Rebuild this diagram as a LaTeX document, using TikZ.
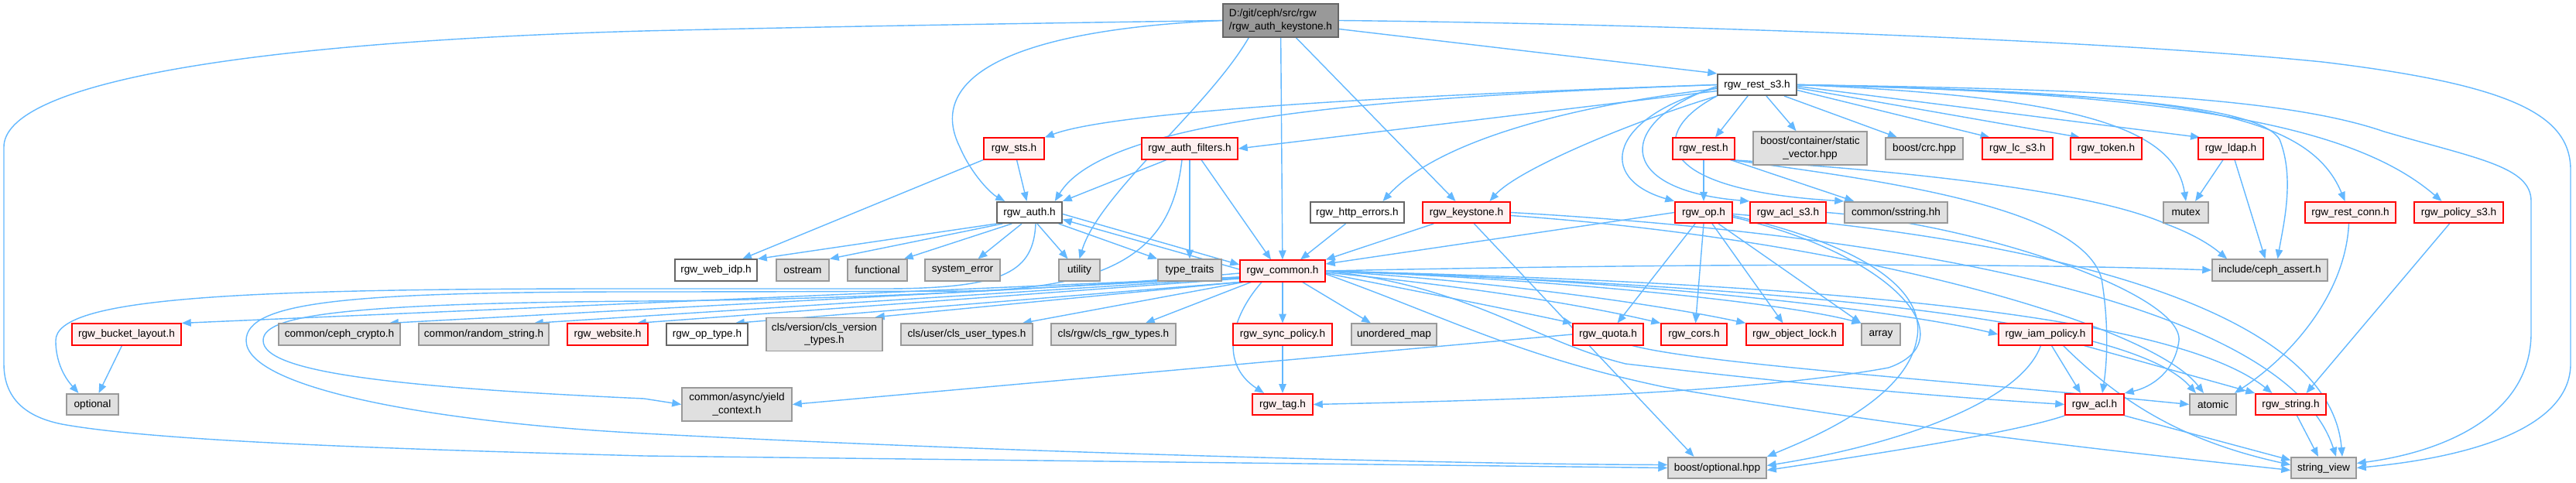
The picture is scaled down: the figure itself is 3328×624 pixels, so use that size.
\documentclass[tikz,border=0pt]{standalone}
\usepackage{fontspec}
\setmainfont{Liberation Sans}
\usetikzlibrary{arrows.meta}
\definecolor{ecol}{HTML}{63B8FF}
\definecolor{rfill}{HTML}{FFF0F0}
\definecolor{gfill}{HTML}{E0E0E0}
\definecolor{gline}{HTML}{999999}
\definecolor{wline}{HTML}{666666}
\definecolor{mfill}{HTML}{999999}
\definecolor{rline}{HTML}{FF0000}
\newcommand\nfs{\fontsize{3.87pt}{4.74pt}\selectfont}
\pgfdeclarelayer{bg}
\pgfsetlayers{bg,main}
\tikzset{
  nb/.style={draw, line width=0.45pt, inner sep=0pt, align=center, minimum height=2.75mm, font=\nfs, text=black},
  W/.style={minimum width=#1*0.1mm},
  tall/.style={minimum height=4.3mm},
  rnode/.style={nb, draw=rline, fill=rfill},
  gnode/.style={nb, draw=gline, fill=gfill},
  wnode/.style={nb, draw=wline, fill=white},
  mnode/.style={nb, draw=wline, fill=mfill, align=left, tall},
  e/.style={draw=ecol, line width=0.4pt, line join=round, -{Triangle[length=3.4pt,width=2.7pt]}}
}
\begin{document}
\begin{tikzpicture}[x=0.1mm,y=-0.1mm]
\useasboundingbox (0,0) rectangle (3328,624);
% row A
\node[mnode,W=149] (main) at (1654.5,26.5) {D:/git/ceph/src/rgw\\/rgw\_auth\_keystone.h};
% row B
\node[wnode,W=102] (rest_s3) at (2270,109.5) {rgw\_rest\_s3.h};
% row C
\node[rnode,W=78] (sts) at (1310,192) {rgw\_sts.h};
\node[rnode,W=124] (auth_filters) at (1537,192) {rgw\_auth\_filters.h};
\node[rnode,W=80] (rest) at (2201,192) {rgw\_rest.h};
\node[gnode,W=147,tall] (static_vector) at (2338.5,191.5) {boost/container/static\\\_vector.hpp};
\node[gnode,W=100] (crc) at (2486,192) {boost/crc.hpp};
\node[rnode,W=91] (lc_s3) at (2606.5,192) {rgw\_lc\_s3.h};
\node[rnode,W=92] (token) at (2721,192) {rgw\_token.h};
\node[rnode,W=84] (ldap) at (2882,192) {rgw\_ldap.h};
% row D
\node[wnode,W=84] (auth) at (1330,274.5) {rgw\_auth.h};
\node[wnode,W=121] (http_errors) at (1753.5,274.5) {rgw\_http\_errors.h};
\node[rnode,W=113] (keystone) at (1894.5,274.5) {rgw\_keystone.h};
\node[rnode,W=74] (op) at (2201,274.5) {rgw\_op.h};
\node[rnode,W=98] (acl_s3) at (2310,274.5) {rgw\_acl\_s3.h};
\node[gnode,W=133] (sstring) at (2449.5,274.5) {common/sstring.hh};
\node[gnode,W=58] (mutex) at (2824,274.5) {mutex};
\node[rnode,W=117] (rest_conn) at (3036.5,274.5) {rgw\_rest\_conn.h};
\node[rnode,W=115] (policy_s3) at (3176.5,274.5) {rgw\_policy\_s3.h};
% row E
\node[wnode,W=106] (web_idp) at (925,349) {rgw\_web\_idp.h};
\node[gnode,W=68] (ostream) at (1037,349) {ostream};
\node[gnode,W=77] (functional) at (1133.5,349) {functional};
\node[gnode,W=97] (system_error) at (1243.5,349) {system\_error};
\node[gnode,W=53] (utility) at (1394.5,349) {utility};
\node[gnode,W=82] (type_traits) at (1537,349) {type\_traits};
\node[rnode,W=110] (common) at (1657,350) {rgw\_common.h};
\node[gnode,W=149] (ceph_assert) at (2932.5,349) {include/ceph\_assert.h};
% row F
\node[rnode,W=141] (bucket_layout) at (163.5,432) {rgw\_bucket\_layout.h};
\node[gnode,W=157] (ceph_crypto) at (438.5,432) {common/ceph\_crypto.h};
\node[gnode,W=168] (random_string) at (625,432) {common/random\_string.h};
\node[rnode,W=104] (website) at (785,432) {rgw\_website.h};
\node[wnode,W=105] (op_type) at (913.5,432) {rgw\_op\_type.h};
\node[gnode,W=150,tall] (cls_version) at (1065,432) {cls/version/cls\_version\\\_types.h};
\node[gnode,W=170] (cls_user) at (1249,432) {cls/user/cls\_user\_types.h};
\node[gnode,W=161] (cls_rgw) at (1438.5,432) {cls/rgw/cls\_rgw\_types.h};
\node[rnode,W=128] (sync_policy) at (1657,432) {rgw\_sync\_policy.h};
\node[gnode,W=110] (unordered_map) at (1801,432) {unordered\_map};
\node[rnode,W=91] (quota) at (2077.5,432) {rgw\_quota.h};
\node[rnode,W=85] (cors) at (2188.5,432) {rgw\_cors.h};
\node[rnode,W=125] (object_lock) at (2318.5,432) {rgw\_object\_lock.h};
\node[gnode,W=50] (array) at (2430,432) {array};
\node[rnode,W=121] (iam_policy) at (2642.5,432) {rgw\_iam\_policy.h};
% row G
\node[gnode,W=67] (optional) at (119.5,522.5) {optional};
\node[gnode,W=142,tall] (yield) at (952,522.5) {common/async/yield\\\_context.h};
\node[rnode,W=78] (tag) at (1657,522.5) {rgw\_tag.h};
\node[rnode,W=76] (acl) at (2706,522.5) {rgw\_acl.h};
\node[gnode,W=60] (atomic) at (2859,522.5) {atomic};
\node[rnode,W=91] (string) at (2959.5,522.5) {rgw\_string.h};
% row H
\node[gnode,W=127] (boost_optional) at (2218.5,604.5) {boost/optional.hpp};
\node[gnode,W=84] (string_view) at (3002,604.5) {string\_view};

\begin{pgfonlayer}{bg}
% main
\draw[e] (main.west) .. controls (1280,40) and (1200,110) .. (1240,190) .. controls (1255,225) and (1280,250) .. ([xshift=1.1mm]auth.north west);
\draw[e] ([xshift=3.4mm]main.south west) .. controls (1560,140) and (1420,250) .. (utility.north);
\draw[e] (main) -- (common);
\draw[e] ([xshift=2mm]main.south) -- ([xshift=-1.4mm]keystone.north);
\draw[e] ([yshift=-1.1mm]main.east) -- (rest_s3.north west);
\draw[e] (main.west) .. controls (1200,32) and (1000,36) .. (832,40) .. controls (300,55) and (5,110) .. (5,190) -- (5,470) .. controls (5,520) and (40,540) .. (80,548) .. controls (200,570) and (500,580) .. (832,589) -- (boost_optional.west);
\draw[e] (main.east) .. controls (2100,30) and (2700,50) .. (3000,80) .. controls (3250,110) and (3321,150) .. (3321,220) -- (3321,470) .. controls (3321,550) and (3200,590) .. (string_view.east);
% rest_s3
\draw[e] (rest_s3.west) .. controls (1900,120) and (1450,140) .. (sts.north east);
\draw[e] ([yshift=-0.8mm]rest_s3.west) -- (auth_filters.east);
\draw[e] (rest_s3.west) .. controls (1800,125) and (1430,150) .. ([xshift=-1mm]auth.north east);
\draw[e] ([yshift=-0.5mm]rest_s3.west) .. controls (2000,140) and (1850,190) .. ([xshift=3.3mm]http_errors.north);
\draw[e] (rest_s3.south west) .. controls (2100,160) and (1960,220) .. ([xshift=3mm]keystone.north);
\draw[e] ([yshift=-0.4mm]rest_s3.west) .. controls (2080,150) and (2060,230) .. (op.north west);
\draw[e] ([yshift=-0.2mm]rest_s3.west) .. controls (2090,155) and (2080,245) .. (acl_s3.north west);
\draw[e] (rest_s3.south west) .. controls (2130,170) and (2130,245) .. (sstring.north west);
\draw[e] ([xshift=-1.2mm]rest_s3.south) -- ([xshift=1.5mm]rest.north);
\draw[e] ([xshift=1.2mm]rest_s3.south) -- ([xshift=-1.8mm]static_vector.north);
\draw[e] ([xshift=3.5mm]rest_s3.south) -- ([xshift=-3.5mm]crc.north);
\draw[e] ([yshift=-0.7mm]rest_s3.east) -- ([xshift=-3.6mm]lc_s3.north);
\draw[e] ([yshift=-0.4mm]rest_s3.east) -- ([xshift=-3.4mm]token.north);
\draw[e] ([yshift=-0.2mm]rest_s3.east) -- ([xshift=-4mm]ldap.north);
\draw[e] (rest_s3.east) .. controls (2700,125) and (2810,170) .. (mutex.north);
\draw[e] (rest_s3.east) .. controls (2750,120) and (2920,140) .. (2945,180) .. controls (2965,230) and (2950,290) .. ([xshift=1mm]ceph_assert.north);
\draw[e] (rest_s3.east) .. controls (2800,120) and (2980,140) .. ([xshift=-0.7mm]rest_conn.north);
\draw[e] (rest_s3.east) .. controls (2850,120) and (3050,170) .. ([xshift=-2.2mm]policy_s3.north);
\draw[e] (rest_s3.east) .. controls (2700,115) and (2950,125) .. (3080,170) .. controls (3200,205) and (3270,215) .. (3270,260) -- (3270,430) .. controls (3270,540) and (3150,585) .. ([yshift=0.6mm]string_view.east);
% sts
\draw[e] (sts) -- (auth);
\draw[e] (sts.south west) -- ([xshift=3.4mm]web_idp.north);
% auth_filters
\draw[e] ([xshift=-3mm]auth_filters.south) -- (auth.north east);
\draw[e] (auth_filters.south) -- (type_traits.north);
\draw[e] ([xshift=1.5mm]auth_filters.south) -- ([xshift=-1.5mm]common.north);
\draw[e] ([xshift=-1mm]auth_filters.south) .. controls (1515,310) and (1460,372) .. (1250,376) .. controls (1000,377) and (900,377) .. (800,377) .. controls (450,378) and (318,390) .. (318,440) .. controls (318,500) and (550,545) .. (832,560) .. controls (1300,585) and (1900,600) .. ([yshift=0.4mm]boost_optional.west);
% auth
\draw[e] (auth.south west) -- (web_idp.north east);
\draw[e] ([xshift=0.8mm]auth.south west) -- (ostream.north east);
\draw[e] ([xshift=2mm]auth.south west) -- ([xshift=-0.5mm]functional.north east);
\draw[e] ([xshift=-1mm]auth.south) -- ([xshift=2mm]system_error.north);
\draw[e] ([xshift=1mm]auth.south) -- ([xshift=-1.5mm]utility.north);
\draw[e] ([xshift=-0.5mm]auth.south east) -- (type_traits.north west);
\draw[e] ([yshift=-0.2mm]auth.east) -- ([yshift=0.8mm]common.west);
\draw[e] ([yshift=0.2mm]common.west) -- ([yshift=-0.9mm]auth.east);
\draw[e] ([xshift=0.8mm]auth.south) .. controls (1335,350) and (1300,372) .. (1150,373) .. controls (1000,373) and (900,373) .. (800,373) .. controls (300,373) and (72,385) .. (72,440) .. controls (72,475) and (90,495) .. ([xshift=-1.8mm]optional.north);
% common, left side
\draw[e] ([yshift=-0.8mm]common.west) -- (bucket_layout.north east);
\draw[e] ([yshift=-0.8mm]common.west) -- ([xshift=-1.5mm]ceph_crypto.north east);
\draw[e] ([yshift=-0.9mm]common.west) -- ([xshift=-2mm]random_string.north east);
\draw[e] ([yshift=-1mm]common.west) -- ([xshift=-1.5mm]website.north east);
\draw[e] (common.south west) -- ([xshift=-1.7mm]op_type.north east);
\draw[e] (common.south west) -- ([xshift=-1mm]cls_version.north east);
\draw[e] ([xshift=0.5mm]common.south west) -- ([xshift=-1.4mm]cls_user.north east);
\draw[e] ([xshift=1.5mm]common.south west) -- ([xshift=-4mm]cls_rgw.north east);
\draw[e] ([yshift=-0.3mm]common.west) .. controls (1300,380) and (1000,388) .. (832,389) .. controls (420,392) and (340,410) .. (340,440) .. controls (340,480) and (500,500) .. (832,515) -- (yield.west);
% common, down
\draw[e] (common.south) -- (sync_policy.north);
\draw[e] ([xshift=-3mm]common.south east) -- ([xshift=-3mm]unordered_map.north);
\draw[e] ([xshift=-2.7mm]common.south) .. controls (1590,410) and (1575,470) .. ([xshift=-2.4mm]tag.north);
% common, right side
\draw[e] ([yshift=-0.3mm]common.east) .. controls (1850,380) and (1950,400) .. (quota.north west);
\draw[e] ([yshift=-0.2mm]common.east) .. controls (1900,370) and (2050,395) .. (cors.north west);
\draw[e] (common.east) .. controls (1950,365) and (2150,395) .. (object_lock.north west);
\draw[e] (common.east) .. controls (2000,360) and (2300,390) .. (array.north west);
\draw[e] (common.east) .. controls (2100,360) and (2450,400) .. (iam_policy.west);
\draw[e] (common.east) .. controls (1900,370) and (1980,440) .. (2100,470) .. controls (2400,505) and (2550,515) .. (acl.west);
\draw[e] (common.east) .. controls (2300,370) and (2750,410) .. ([xshift=-2.2mm]atomic.north);
\draw[e] (common.east) .. controls (2300,365) and (2800,400) .. ([xshift=-2.4mm]string.north);
\draw[e] (common.east) .. controls (2200,340) and (2600,340) .. (ceph_assert.west);
\draw[e] ([yshift=-0.4mm]common.east) .. controls (1870,410) and (1960,460) .. (2150,500) .. controls (2500,560) and (2800,590) .. ([yshift=-0.3mm]string_view.west);
% keystone
\draw[e] ([xshift=1.5mm]keystone.south west) -- (common.north east);
\draw[e] ([xshift=1mm]keystone.south) -- ([xshift=-3mm]boost_optional.north);
\draw[e] (keystone.east) .. controls (2400,300) and (2950,380) .. ([xshift=1.6mm]string_view.north);
\draw[e] ([yshift=-0.4mm]keystone.east) .. controls (2400,310) and (2780,420) .. ([xshift=-1.2mm]atomic.north);
% http_errors
\draw[e] ([xshift=-1.5mm]http_errors.south) -- ([xshift=2.3mm]common.north);
% rest
\draw[e] (rest) -- (op);
\draw[e] ([xshift=-0.6mm]rest.south east) -- ([xshift=1.3mm]sstring.north west);
\draw[e] ([xshift=-0.6mm]rest.south east) .. controls (2450,220) and (2700,245) .. (2800,290) .. controls (2840,305) and (2860,320) .. ([xshift=2mm]ceph_assert.north west);
\draw[e] ([xshift=-0.6mm]rest.south east) .. controls (2450,235) and (2690,270) .. (2715,360) .. controls (2725,420) and (2722,470) .. ([xshift=1mm]acl.north);
% op
\draw[e] (op.west) -- ([yshift=0.9mm]common.east);
\draw[e] ([xshift=-1.1mm]op.south) -- ([xshift=1.2mm]quota.north);
\draw[e] (op.south) -- ([xshift=0.2mm]cors.north);
\draw[e] ([xshift=1.1mm]op.south) -- ([xshift=-1.5mm]object_lock.north);
\draw[e] ([xshift=1.9mm]op.south) -- (array.north west);
\draw[e] ([yshift=-0.6mm]op.east) .. controls (2450,330) and (2540,440) .. (2440,475) .. controls (2250,510) and (1900,518) .. (tag.east);
\draw[e] ([yshift=-0.4mm]op.east) .. controls (2420,320) and (2490,380) .. (2476,440) .. controls (2460,520) and (2330,570) .. (boost_optional.north east);
\draw[e] ([yshift=-0.2mm]op.east) .. controls (2650,310) and (3010,400) .. ([xshift=2.4mm]string_view.north);
% acl_s3
\draw[e] (acl_s3.east) .. controls (2560,290) and (2820,380) .. (2815,440) .. controls (2810,480) and (2780,500) .. (acl.north east);
% quota
\draw[e] (quota.west) -- (yield.east);
\draw[e] ([xshift=-1.5mm]quota.south east) .. controls (2200,470) and (2500,490) .. (atomic.west);
% sync_policy, bucket_layout
\draw[e] (sync_policy) -- (tag);
\draw[e] ([xshift=-0.6mm]bucket_layout.south) -- ([xshift=0.8mm]optional.north);
% iam_policy
\draw[e] ([xshift=0.8mm]iam_policy.south) -- ([xshift=-1.8mm]acl.north);
\draw[e] ([xshift=5mm]iam_policy.south) -- (string.north west);
\draw[e] ([xshift=2.3mm]iam_policy.south) .. controls (2740,520) and (2820,570) .. ([yshift=0.4mm]string_view.west);
\draw[e] ([xshift=-0.6mm]iam_policy.south) .. controls (2610,520) and (2450,575) .. ([yshift=0.3mm]boost_optional.east);
% acl
\draw[e] (acl.south west) .. controls (2600,560) and (2400,590) .. ([yshift=-0.3mm]boost_optional.east);
\draw[e] (acl.south east) -- ([yshift=1mm]string_view.west);
% string
\draw[e] ([xshift=0.8mm]string.south) -- ([xshift=-0.7mm]string_view.north);
% ldap
\draw[e] ([xshift=-1mm]ldap.south) -- ([xshift=1.2mm]mutex.north);
\draw[e] ([xshift=0.5mm]ldap.south) -- ([xshift=-0.6mm]ceph_assert.north);
% rest_conn
\draw[e] ([xshift=-0.2mm]rest_conn.south) .. controls (3030,380) and (2960,460) .. ([xshift=-0.3mm]atomic.north east);
% policy_s3
\draw[e] ([xshift=-1.2mm]policy_s3.south) -- ([xshift=2mm]string.north);
\end{pgfonlayer}
\end{tikzpicture}
\end{document}
